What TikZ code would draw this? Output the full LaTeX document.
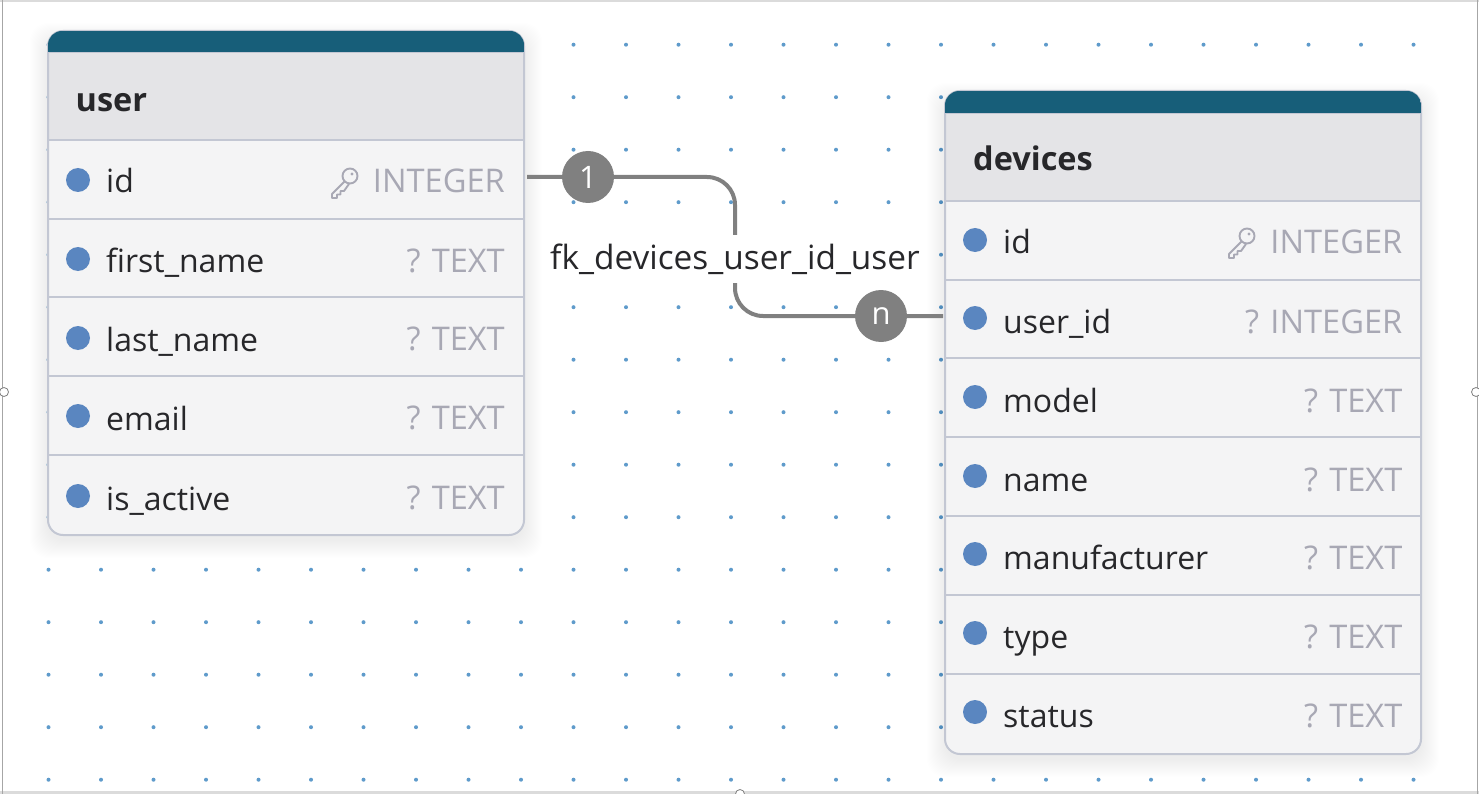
\documentclass[tikz,border=0pt]{standalone}
\usepackage{fontspec}
\setmainfont{Open Sans}
\tikzset{
  x=1pt,y=-1pt,
  rowbox/.style={draw=rowline,line width=2pt,fill=rowfill,minimum width=476pt,inner sep=0pt,outer sep=0pt,anchor=north west},
  headbox/.style={rowbox,fill=headfill},
  tabletitle/.style={font=\fontsize{32.5}{32.5}\selectfont\bfseries,text=ink,anchor=base west,inner sep=0pt},
  colname/.style={font=\fontsize{32}{32}\selectfont,text=ink,anchor=base west,inner sep=0pt},
  coltype/.style={font=\fontsize{32.6}{32.6}\selectfont,text=typegray,anchor=base east,inner sep=0pt},
  bullet/.style={circle,fill=bulletblue,minimum size=24pt,inner sep=0pt},
  card/.style={circle,fill=linkgray,minimum size=52pt,inner sep=0pt,text=white,font=\fontsize{31}{31}\selectfont},
  link/.style={draw=linkgray,line width=4pt,rounded corners=28pt},
  griddot/.style={fill=dotblue,draw=none},
  handle/.style={circle,draw=gray,fill=white,line width=0.8pt,minimum size=9pt,inner sep=0pt},
}
\definecolor{rowline}{HTML}{C3C7D3}
\definecolor{rowfill}{HTML}{F4F4F5}
\definecolor{headfill}{HTML}{E4E4E7}
\definecolor{band}{HTML}{175E79}
\definecolor{ink}{HTML}{27272A}
\definecolor{typegray}{HTML}{A8A8B4}
\definecolor{bulletblue}{HTML}{5A86C0}
\definecolor{linkgray}{HTML}{808080}
\definecolor{dotblue}{HTML}{5F9BCB}
\definecolor{framegray}{HTML}{A6A6A6}
\newcommand{\cardshadow}[4]{%
  \foreach \s in {18,17,...,1}{
    \fill[black,opacity=0.005,rounded corners=18pt]
      (#1-\s,#2-\s+10) rectangle (#3+\s,#4+\s+5);
  }}
\newcommand{\keyicon}[2]{%
  \begin{scope}[shift={(#1,#2)},draw=typegray,line width=1.9pt,line join=round]
    \draw (6,-4) circle[radius=7.5];
    \fill[typegray] (8,-6) circle[radius=1.6];
    \draw (1,1) -- (-12,14) -- (-12,18) -- (-7,18) -- (-7,14.5) -- (-3.5,14.5) -- (-3.5,11) -- (0,11) -- (5,4);
  \end{scope}}
\begin{document}
\begin{tikzpicture}
\useasboundingbox (0,0) rectangle (1479,794);
\fill[white] (0,0) rectangle (1479,794);
% dot grid
\foreach \ix in {0,...,26}{
  \foreach \iy in {0,...,14}{
    \fill[griddot] ({48.5+52.5*\ix},{44.7+52.5*\iy}) circle[radius=2];
  }}
% shadows
\cardshadow{48}{31}{524}{535}
\cardshadow{945}{91}{1421}{754}
% user table
\begin{scope}
\clip[rounded corners=15pt] (48,31) rectangle (524,535);
\node[headbox,minimum height=88pt] (userhead) at (48,52) {};
\node[rowbox,minimum height=79pt] (u1) at (48,140) {};
\node[rowbox,minimum height=79pt] (u2) at (48,219) {};
\node[rowbox,minimum height=79pt] (u3) at (48,297) {};
\node[rowbox,minimum height=79pt] (u4) at (48,376) {};
\node[rowbox,minimum height=90pt] (u5) at (48,455) {};
\end{scope}
\draw[draw=rowline,line width=2pt,rounded corners=15pt] (48,31) rectangle (524,535);
\begin{scope}
\clip[rounded corners=14pt] (48,31) rectangle (524,535);
\fill[band] (48,31) rectangle (524,52);
\end{scope}
\node[tabletitle] (usertitle) at (75.5,112) {user};
\foreach \n/\t/\yy/\by in {a/id/193/180,b/first\_name/272/259,c/last\_name/351/338,d/email/430/416,e/is\_active/510/496}{
  \node[colname] (un\n) at (106,\yy) {\t};
  \node[bullet] (ub\n) at (78,\by) {};
}
\node[coltype] (ut1) at (505,193) {INTEGER};
\node[coltype] (ut2) at (505,272) {? TEXT};
\node[coltype] (ut3) at (505,350) {? TEXT};
\node[coltype] (ut4) at (505,429) {? TEXT};
\node[coltype] (ut5) at (505,509) {? TEXT};
\keyicon{344}{180}
% devices table
\begin{scope}
\clip[rounded corners=15pt] (945,91) rectangle (1421,754);
\node[headbox,minimum height=88pt] (devhead) at (945,113) {};
\node[rowbox,minimum height=79pt] (d1) at (945,201) {};
\node[rowbox,minimum height=79pt] (d2) at (945,280) {};
\node[rowbox,minimum height=79pt] (d3) at (945,358) {};
\node[rowbox,minimum height=79pt] (d4) at (945,437) {};
\node[rowbox,minimum height=79pt] (d5) at (945,516) {};
\node[rowbox,minimum height=79pt] (d6) at (945,595) {};
\node[rowbox,minimum height=90pt] (d7) at (945,674) {};
\end{scope}
\draw[draw=rowline,line width=2pt,rounded corners=15pt] (945,91) rectangle (1421,754);
\begin{scope}
\clip[rounded corners=14pt] (945,91) rectangle (1421,754);
\fill[band] (945,91) rectangle (1421,113);
\end{scope}
\node[tabletitle] (devtitle) at (973,171) {devices};
\foreach \n/\t/\yy/\by in {a/id/254/240,b/user\_id/333/318,c/model/412/397,d/name/491/476,e/manufacturer/569/554,f/type/648/633,g/status/727/712}{
  \node[colname] (dn\n) at (1003,\yy) {\t};
  \node[bullet] (db\n) at (975,\by) {};
}
\node[coltype] (dt1) at (1402.5,254) {INTEGER};
\node[coltype] (dt2) at (1402.5,333) {? INTEGER};
\node[coltype] (dt3) at (1402.5,412) {? TEXT};
\node[coltype] (dt4) at (1402.5,491) {? TEXT};
\node[coltype] (dt5) at (1402.5,569) {? TEXT};
\node[coltype] (dt6) at (1402.5,648) {? TEXT};
\node[coltype] (dt7) at (1402.5,727) {? TEXT};
\keyicon{1241}{240}
% connector
\coordinate (from) at (527,177);
\coordinate (to) at (943,316);
\draw[link] (from) -- (735,177) -- (735,316) -- (to);
\node[fill=white,inner sep=0pt,minimum width=372pt,minimum height=48pt] (fk) at (735,259) {\fontsize{33.4}{33.4}\selectfont\color{ink}\raisebox{-2pt}{fk\_devices\_user\_id\_user}};
\node[card] (one) at (588,177) {1};
\node[card] (many) at (881,316) {n};
% window frame
\fill[framegray!40] (0,0) rectangle (1479,2);
\fill[framegray!40] (0,791) rectangle (1479,794);
\draw[framegray,line width=1pt] (2.5,0) -- (2.5,794);
\draw[framegray,line width=1pt] (1477,0) -- (1477,794);
\node[handle] (hl) at (4,392) {};
\node[handle] (hr) at (1476,392) {};
\node[handle] (hb) at (740,794) {};
\end{tikzpicture}
\end{document}
